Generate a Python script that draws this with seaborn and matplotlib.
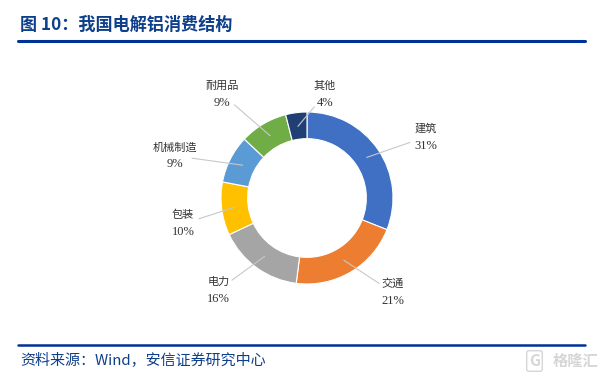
import numpy as np
import pandas as pd
import seaborn as sns
import matplotlib
matplotlib.use("Agg")
import matplotlib.pyplot as plt

categories = ["建筑", "交通", "电力", "包装", "机械制造", "耐用品", "其他"]
shares = [31, 21, 16, 10, 9, 9, 4]
pct_labels = ["31%", "21%", "16%", "10%", "9%", "9%", "4%"]
colors = ["#4070C4", "#ED7D31", "#A5A5A5", "#FFC000", "#5B9BD5", "#70AD47", "#203F74"]
# label anchor positions (layout, in units of the outer radius)
label_pos = [(1.38, 0.71), (1.00, -1.10), (-1.03, -1.07), (-1.44, -0.30),
             (-1.53, 0.49), (-0.99, 1.21), (0.21, 1.21)]

df = pd.DataFrame({"category": categories, "share": shares, "pct": pct_labels})

sns.set_theme(style="white")
plt.rcParams["font.family"] = ["Noto Sans CJK SC", "DejaVu Sans"]

fig = plt.figure(figsize=(6.08, 3.80), dpi=100)
fig.patch.set_facecolor("white")

R = 86
ax = fig.add_axes([(307 - 1.6 * R) / 608, (182 - 1.6 * R) / 380, 3.2 * R / 608, 3.2 * R / 380])
wedges, _ = ax.pie(df["share"], colors=sns.color_palette(colors), startangle=90, counterclock=False,
                   radius=1.0, wedgeprops=dict(width=0.31, edgecolor="white", linewidth=0.8))
ax.set_xlim(-1.6, 1.6)
ax.set_ylim(-1.6, 1.6)
ax.set_aspect("equal")
ax.axis("off")

for w, (lx, ly), name, pct in zip(wedges, label_pos, df["category"], df["pct"]):
    ang = np.deg2rad((w.theta1 + w.theta2) / 2)
    r0 = 0.84
    x0, y0 = r0 * np.cos(ang), r0 * np.sin(ang)
    ax.annotate("", xy=(x0, y0), xytext=(lx, ly),
                arrowprops=dict(arrowstyle="-", color="#C8C8C8", lw=0.8, shrinkA=12, shrinkB=0))
    ax.text(lx, ly + 0.10, name, ha="center", va="center", fontsize=8,
            family=["Noto Sans CJK SC"], color="#333333")
    ax.text(lx, ly - 0.10, pct, ha="center", va="center", fontsize=9,
            family=["Liberation Serif", "Noto Sans CJK SC"], color="#333333")

# title
fig.text(20 / 608, 1 - 25 / 380, "图 10：我国电解铝消费结构", ha="left", va="center",
         fontsize=12.3, fontweight="bold", color="#0E3F8A",
         family=["Noto Sans CJK SC", "DejaVu Sans"])
fig.add_artist(plt.Line2D([18 / 608, 585 / 608], [1 - 41 / 380, 1 - 41 / 380],
                          color="#003399", lw=2.2, transform=fig.transFigure))
# footer
fig.add_artist(plt.Line2D([18 / 608, 585 / 608], [1 - 345 / 380, 1 - 345 / 380],
                          color="#003399", lw=1.8, transform=fig.transFigure))
fig.text(20 / 608, 1 - 361 / 380, "资料来源：Wind，安信证券研究中心", ha="left", va="center",
         fontsize=10.8, style="italic", color="#0E3F8A",
         family=["Noto Sans CJK SC", "DejaVu Sans"])
fig.text(598 / 608, 1 - 361 / 380, "格隆汇", ha="right", va="center",
         fontsize=11, color="#D6D6D6", fontweight="bold",
         family=["Noto Sans CJK SC", "DejaVu Sans"])
fig.text(540 / 608, 1 - 361 / 380, "G", ha="right", va="center",
         fontsize=11, color="#D6D6D6", fontweight="bold",
         bbox=dict(boxstyle="round,pad=0.15", fc="none", ec="#D6D6D6", lw=1))

fig.savefig("out.png", dpi=100, facecolor="white")
